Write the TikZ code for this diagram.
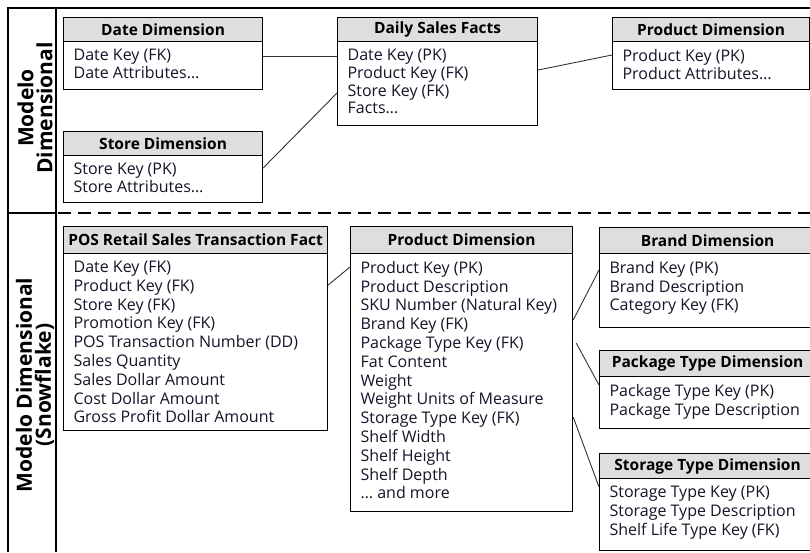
\documentclass[tikz,border=0pt]{standalone}
\usepackage{fontspec}
\setmainfont{Open Sans}
\definecolor{ink}{RGB}{20,20,40}
\definecolor{hdrgray}{RGB}{222,222,222}
\definecolor{linegray}{RGB}{50,50,50}
\tikzset{
  frame/.style={line width=1.3pt, draw=black},
  head/.style={draw=black, fill=hdrgray, line width=1.2pt, anchor=north west,
    inner sep=0pt, text=black, font=\bfseries\fontsize{15.5}{17}\selectfont},
  body/.style={draw=black, line width=1.2pt, anchor=north west, inner sep=0pt,
    text=ink},
  link/.style={draw=linegray, line width=0.9pt},
  sidelabel/.style={rotate=90, align=center, text=black,
    font=\bfseries\fontsize{21}{19}\selectfont}
}
\newcommand\topsize{\fontsize{16}{17.8}\selectfont}
\newcommand\lowsize{\fontsize{16}{18.8}\selectfont}
% #1 name, #2 x, #3 y, #4 width, #5 header height, #6 body height, #7 title, #8 rows, #9 size
\newcommand\entitybox[9]{%
  \node[body] (#1) at (#2,#3+#5)
    {#9\parbox[c][#6pt][t]{#4pt}{\vspace*{7.5pt}\raggedright\leftskip=10pt #8\par}};
  \node[head, minimum width=#4pt, minimum height=#5pt] (#1h) at (#2,#3) {#7};
}
\begin{document}
\begin{tikzpicture}[x=1pt, y=-1pt]
\useasboundingbox (0,0) rectangle (810,552);

% frame and section separators
\draw[frame] (8,552) -- (8,8) -- (815,8);
\draw[frame] (56,8) -- (56,552);
\draw[frame] (8,213) -- (56,213);
\draw[frame, dash pattern=on 13pt off 7pt] (58,213) -- (815,213);

\node[sidelabel] (lblA) at (35,108) {Modelo\\Dimensional};
\node[sidelabel] (lblB) at (35,385) {Modelo Dimensional\\(Snowflake)};

% dimensional model
\entitybox{date}{63}{17}{199}{24}{48}{Date Dimension}{Date Key (FK)\\Date Attributes\dots}{\topsize}
\entitybox{store}{63}{131}{199}{24}{47}{Store Dimension}{Store Key (PK)\\Store Attributes\dots}{\topsize}
\entitybox{daily}{337}{17}{200}{24}{84}{Daily Sales Facts}{Date Key (PK)\\Product Key (FK)\\Store Key (FK)\\Facts\dots}{\topsize}
\entitybox{prodA}{612}{17}{197}{24}{48}{Product Dimension}{Product Key (PK)\\Product Attributes\dots}{\topsize}

\draw[link] ([yshift=-15pt]date.north east) -- ([yshift=-15pt]daily.north west);
\draw[link] ([yshift=-13pt]store.north east) -- ([yshift=-52pt]daily.north west);
\draw[link] ([yshift=-29pt]daily.north east) -- ([yshift=-14pt]prodA.north west);

% snowflake model
\entitybox{pos}{63}{226}{264}{27}{177}{POS Retail Sales Transaction Fact}{Date Key (FK)\\Product Key (FK)\\Store Key (FK)\\Promotion Key (FK)\\POS Transaction Number (DD)\\Sales Quantity\\Sales Dollar Amount\\Cost Dollar Amount\\Gross Profit Dollar Amount}{\lowsize}
\entitybox{prodB}{350}{226}{222}{27}{258}{Product Dimension}{Product Key (PK)\\Product Description\\SKU Number (Natural Key)\\Brand Key (FK)\\Package Type Key (FK)\\Fat Content\\Weight\\Weight Units of Measure\\Storage Type Key (FK)\\Shelf Width\\Shelf Height\\Shelf Depth\\\dots\ and more}{\lowsize}
\entitybox{brand}{599}{227}{216}{26}{74}{Brand Dimension}{Brand Key (PK)\\Brand Description\\Category Key (FK)}{\lowsize}
\entitybox{pack}{599}{350}{216}{26}{52}{Package Type Dimension}{Package Type Key (PK)\\Package Type Description}{\lowsize}
\entitybox{stor}{599}{453}{216}{25}{72}{Storage Type Dimension}{Storage Type Key (PK)\\Storage Type Description\\Shelf Life Type Key (FK)}{\lowsize}

\draw[link] ([yshift=-32pt]pos.north east) -- ([yshift=-14pt]prodB.north west);
\draw[link] ([yshift=-67pt]prodB.north east) -- ([yshift=-17pt]brand.north west);
\draw[link] ([xshift=3pt,yshift=-90pt]prodB.north east) -- ([yshift=-9pt]pack.north west);
\draw[link] ([yshift=-164pt]prodB.north east) -- ([yshift=-9pt]stor.north west);
\end{tikzpicture}
\end{document}
